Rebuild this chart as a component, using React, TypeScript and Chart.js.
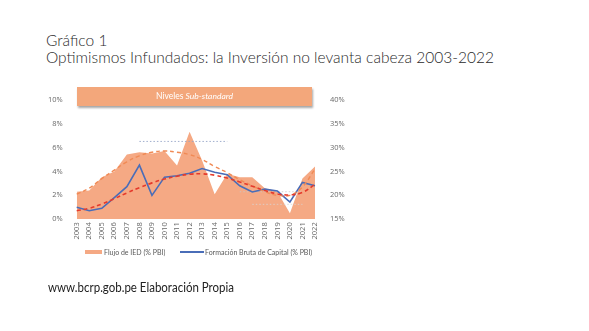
import React, { useEffect, useRef } from "react";
import { Chart, registerables } from "chart.js";

Chart.register(...registerables);

const years = ["2003","2004","2005","2006","2007","2008","2009","2010","2011","2012","2013","2014","2015","2016","2017","2018","2019","2020","2021","2022"];
// Flujo de IED (% PBI) - left axis
const ied = [2.3, 2.4, 3.5, 4.0, 5.4, 5.6, 5.5, 5.7, 4.5, 7.3, 4.9, 2.1, 3.8, 3.5, 3.5, 2.6, 2.3, 0.5, 3.4, 4.4];
// Formación Bruta de Capital (% PBI) - right axis
const fbk = [17.5, 16.8, 17.3, 19.5, 21.8, 26.3, 20.0, 23.8, 24.1, 24.6, 25.6, 24.8, 24.3, 22.0, 20.7, 21.3, 20.9, 18.6, 22.7, 22.0];
// Polynomial trend of IED (left axis)
const iedTrend = [2.1, 2.6, 3.4, 4.1, 4.8, 5.3, 5.6, 5.7, 5.6, 5.4, 5.0, 4.4, 3.9, 3.3, 2.8, 2.3, 2.0, 2.0, 2.7, 4.2];
// Polynomial trend of FBK (right axis)
const fbkTrend = [16.8, 17.3, 18.2, 19.3, 20.5, 21.6, 22.6, 23.4, 24.0, 24.4, 24.5, 24.2, 23.6, 22.8, 21.9, 21.0, 20.3, 20.1, 20.6, 22.3];
// Dotted reference levels (left axis)
const refHigh = [null, null, null, null, null, 6.5, 6.5, 6.5, 6.5, 6.5, 6.5, 6.5, 6.5, null, null, null, null, null, null, null];
const refMid = [null, null, null, null, null, null, null, null, null, null, null, null, null, 2.3, 2.3, 2.3, 2.3, 2.3, 2.3, null];
const refLow = [null, null, null, null, null, null, null, null, null, null, null, null, null, null, 1.25, 1.25, 1.25, 1.25, 1.25, null];

const leftTicks = [0, 1, 2, 3, 4, 5, 6, 7, 8, 9, 10];
const rightTicks = [15, 20, 25, 30, 35, 40];

const titleLine1 = "Gráfico 1";
const titleLine2 = "Optimismos Infundados: la Inversión no levanta cabeza 2003-2022";
const bannerA = "Niveles ";
const bannerB = "Sub-standard";
const legendA = "Flujo de IED (% PBI)";
const legendB = "Formación Bruta de Capital (% PBI)";
const footer = "www.bcrp.gob.pe Elaboración Propia";

const FONT = "Lato, 'Open Sans', sans-serif";
const TICK_FONT = { family: "'Open Sans', sans-serif", size: 7.5 };
const TICK_COLOR = "#6a6a6a";

export default function App() {
  const ref = useRef<HTMLCanvasElement | null>(null);

  useEffect(() => {
    const canvas = ref.current;
    if (!canvas) return;
    const refStyle = (data: (number | null)[], color: string) => ({
      type: "line" as const,
      data,
      borderColor: color,
      borderWidth: 1,
      borderDash: [1.5, 2],
      pointRadius: 0,
      fill: false,
      spanGaps: false,
      yAxisID: "y",
      order: 5,
    });
    const chart = new Chart(canvas, {
      type: "line",
      data: {
        labels: years,
        datasets: [
          {
            label: legendA,
            data: ied,
            yAxisID: "y",
            borderWidth: 0,
            borderColor: "rgba(0,0,0,0)",
            backgroundColor: "#F5A984",
            fill: "origin",
            pointRadius: 0,
            tension: 0,
            order: 10,
          },
          refStyle(refHigh, "rgba(150,165,200,0.9)"),
          refStyle(refMid, "rgba(200,200,200,0.8)"),
          refStyle(refLow, "rgba(215,215,215,0.8)"),
          {
            label: legendB,
            data: fbk,
            yAxisID: "y1",
            borderColor: "#4A6DB8",
            borderWidth: 1.6,
            pointRadius: 0,
            fill: false,
            tension: 0,
            order: 3,
          },
          {
            label: "Tendencia IED",
            data: iedTrend,
            yAxisID: "y",
            borderColor: "#F08A55",
            borderWidth: 1.4,
            borderDash: [4, 3],
            pointRadius: 0,
            fill: false,
            tension: 0.4,
            order: 2,
          },
          {
            label: "Tendencia FBK",
            data: fbkTrend,
            yAxisID: "y1",
            borderColor: "#E53A2C",
            borderWidth: 1.6,
            borderDash: [4, 3],
            pointRadius: 0,
            fill: false,
            tension: 0.4,
            order: 1,
          },
        ],
      },
      options: {
        responsive: false,
        animation: false,
        devicePixelRatio: 1,
        layout: { padding: { top: 11, bottom: 0, left: 0, right: 0 } },
        plugins: { legend: { display: false }, tooltip: { enabled: false }, title: { display: false } },
        scales: {
          x: {
            type: "category",
            offset: false,
            grid: { display: false, drawTicks: false },
            border: { display: false },
            ticks: {
              font: TICK_FONT,
              color: TICK_COLOR,
              minRotation: 90,
              maxRotation: 90,
              padding: 3,
              autoSkip: false,
            },
            afterFit: (s: any) => { s.height = 180 - 139.3; },
          },
          y: {
            position: "left",
            min: 0,
            max: 10,
            grid: { display: false, drawTicks: false },
            border: { display: false },
            afterBuildTicks: (s: any) => { s.ticks = leftTicks.map((v) => ({ value: v })); },
            ticks: {
              font: TICK_FONT,
              color: TICK_COLOR,
              padding: 14,
              callback: (v: any) => v + "%",
            },
            afterFit: (s: any) => { s.width = 76.7; },
          },
          y1: {
            position: "right",
            min: 15,
            max: 40,
            grid: { display: false, drawTicks: false },
            border: { display: false },
            afterBuildTicks: (s: any) => { s.ticks = rightTicks.map((v) => ({ value: v })); },
            ticks: {
              font: TICK_FONT,
              color: TICK_COLOR,
              padding: 15,
              callback: (v: any) => v + "%",
            },
            afterFit: (s: any) => { s.width = 400 - 315; },
          },
        },
      },
    });
    return () => chart.destroy();
  }, []);

  const abs = (o: React.CSSProperties): React.CSSProperties => ({ position: "absolute", ...o });

  return (
    <div style={abs({ left: 0, top: 0, width: 589, height: 331, background: "#fff", overflow: "hidden", fontFamily: FONT })}>
      <div
        style={abs({
          left: 46,
          top: 31,
          fontSize: 16,
          fontWeight: 300,
          lineHeight: "17px",
          color: "#2a2a2a",
          whiteSpace: "nowrap",
          transform: "scaleX(0.97)",
          transformOrigin: "left top",
        })}
      >
        <div>{titleLine1}</div>
        <div>{titleLine2}</div>
      </div>
      <canvas ref={ref} width={400} height={180} style={abs({ left: 0, top: 80, width: 400, height: 180 })} />
      <div
        style={abs({
          left: 77,
          top: 87,
          width: 235,
          height: 19,
          background: "#F3A77B",
          boxShadow: "1px 2px 2px rgba(0,0,0,0.35)",
          color: "#fff",
          fontSize: 8.5,
          lineHeight: "19px",
          textAlign: "center",
          whiteSpace: "nowrap",
        })}
      >
        {bannerA}
        <i>{bannerB}</i>
      </div>
      <div style={abs({ left: 85, top: 250, width: 17, height: 4, background: "#F5A984" })} />
      <div style={abs({ left: 104, top: 247, fontSize: 7, lineHeight: "10px", color: "#595959", whiteSpace: "nowrap" })}>{legendA}</div>
      <div style={abs({ left: 180, top: 251, width: 24, height: 1.6, background: "#4A6DB8" })} />
      <div style={abs({ left: 205, top: 247, fontSize: 7, lineHeight: "10px", color: "#595959", whiteSpace: "nowrap" })}>{legendB}</div>
      <div
        style={abs({
          left: 48,
          top: 280,
          fontSize: 12.5,
          lineHeight: "15px",
          color: "#222",
          whiteSpace: "nowrap",
          transform: "scaleX(0.92)",
          transformOrigin: "left top",
        })}
      >
        {footer}
      </div>
    </div>
  );
}
